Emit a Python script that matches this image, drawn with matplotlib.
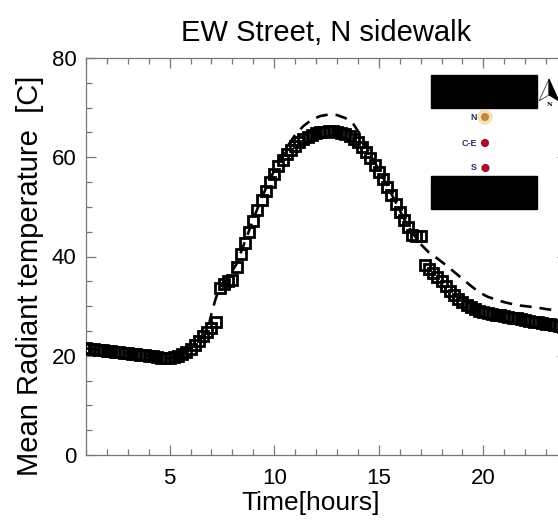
import matplotlib
matplotlib.use("Agg")
import matplotlib.pyplot as plt
from matplotlib.patches import Rectangle, Circle, Polygon
from matplotlib.ticker import MultipleLocator
import numpy as np

plt.rcParams['font.family'] = ['Liberation Sans', 'DejaVu Sans']

# Measured mean radiant temperature (squares), every 0.2 h
time_meas = np.round(np.arange(1.0, 24.01, 0.2), 2)
mrt_meas = [
    21.5, 21.4, 21.3, 21.2, 21.1, 21.0, 20.9, 20.8, 20.7, 20.6,
    20.5, 20.4, 20.3, 20.2, 20.1, 20.0, 19.9, 19.7, 19.6, 19.5,
    19.5, 19.7, 19.9, 20.3, 20.8, 21.4, 22.2, 23.0, 23.9, 24.7,
    25.6, 26.8, 33.6, 34.4, 35.0, 35.3, 37.8, 40.5, 42.8, 45.0,
    47.2, 49.3, 51.3, 53.2, 55.0, 56.7, 58.2, 59.5, 60.6, 61.5,
    62.3, 63.0, 63.6, 64.1, 64.5, 64.8, 65.0, 65.1, 65.2, 65.2,
    65.1, 64.9, 64.6, 64.2, 63.7, 63.0, 62.1, 61.0, 59.8, 58.5,
    57.1, 55.6, 54.0, 52.3, 50.6, 48.9, 47.3, 45.9, 44.3, 44.2,
    44.2, 38.3, 37.5, 36.7, 35.9, 35.0, 34.1, 33.1, 32.2, 31.4,
    30.8, 30.2, 29.8, 29.4, 29.1, 28.9, 28.7, 28.5, 28.3, 28.2,
    28.0, 27.9, 27.7, 27.6, 27.4, 27.3, 27.1, 26.9, 26.8, 26.6,
    26.4, 26.3, 26.1, 26.0, 25.8, 25.7,
]

# Simulated curve (dashed)
time_sim = [1.0, 2.0, 3.0, 4.0, 5.0, 5.5, 6.0, 6.5, 6.8, 7.0, 7.2, 7.4, 7.8,
            8.2, 8.6, 9.0, 9.4, 9.8, 10.2, 10.6, 11.0, 11.4, 11.8, 12.2,
            12.6, 13.0, 13.4, 13.8, 14.2, 14.6, 15.0, 15.4, 15.8, 16.2,
            16.6, 17.0, 17.4, 17.8, 18.2, 18.6, 19.0, 19.4, 19.8, 20.2,
            20.6, 21.0, 21.4, 21.8, 22.2, 22.6, 23.0, 23.4, 23.8, 24.2]
mrt_sim = [21.5, 21.0, 20.5, 20.0, 19.5, 20.1, 21.4, 23.4, 24.8, 28.5, 31.5,
           33.8, 35.8, 38.5, 43.0, 47.5, 51.8, 55.6, 59.0, 62.0, 64.5, 66.3,
           67.6, 68.3, 68.6, 68.5, 67.9, 66.6, 64.0, 60.5, 57.5, 54.3, 51.0,
           47.6, 44.8, 42.5, 40.8, 39.6, 38.3, 36.9, 35.5, 34.1, 32.8, 31.9,
           31.3, 30.8, 30.4, 30.1, 29.9, 29.7, 29.4, 29.2, 29.0, 28.8]

W, H = 558, 520
fig = plt.figure(figsize=(W / 100, H / 100), dpi=100)
ax = fig.add_axes([86 / W, 65 / H, 481 / W, 397 / H])

ax.plot(time_sim, mrt_sim, color='black', lw=1.9, ls=(0, (4.5, 3)), zorder=2)
ax.plot(time_meas, mrt_meas, ls='none', marker='s', ms=7.2, mfc='none',
        mec='black', mew=2.0, zorder=3)

ax.set_xlim(1, 24)
ax.set_ylim(0, 80)
ax.xaxis.set_major_locator(MultipleLocator(5))
ax.xaxis.set_minor_locator(MultipleLocator(1))
ax.yaxis.set_major_locator(MultipleLocator(20))
ax.yaxis.set_minor_locator(MultipleLocator(5))
ax.tick_params(which='both', direction='in', top=True, right=True,
               color='#777777', width=0.9, labelsize=16)
ax.tick_params(which='major', length=7)
ax.tick_params(which='minor', length=4)
ax.tick_params(axis='x', pad=9)
ax.tick_params(axis='y', pad=7)
for s in ax.spines.values():
    s.set_color('#777777')
    s.set_linewidth(0.9)

fig.text(326 / W, 1 - 33 / H, 'EW Street, N sidewalk', ha='center',
         va='center', fontsize=21)
fig.text(311 / W, 1 - 503 / H, 'Time[hours]', ha='center', va='center',
         fontsize=19)
fig.text(30 / W, 1 - 276 / H, 'Mean Radiant temperature  [C]', ha='center',
         va='center', rotation=90, fontsize=21)

# street schematic inset (pixel coordinates)
ov = fig.add_axes([0, 0, 1, 1])
ov.set_xlim(0, W)
ov.set_ylim(H, 0)
ov.axis('off')
ov.add_patch(Rectangle((431, 75), 106, 33, color='black'))
ov.add_patch(Rectangle((431, 176), 106, 33, color='black'))
ov.add_patch(Circle((485, 117), 7, color='#f7dcb0', alpha=0.8))
ov.add_patch(Circle((485, 117), 3.4, color='#c9853e'))
ov.add_patch(Circle((485, 143), 3.4, color='#a8102a'))
ov.add_patch(Circle((485.5, 168), 3.4, color='#a8102a'))
for lbl, yy in [('N', 117), ('C-E', 143), ('S', 168)]:
    ov.text(477, yy, lbl, ha='right', va='center', fontsize=6.5,
            fontweight='bold', color='#2b2b6e')
ov.add_patch(Polygon([(549, 79), (539, 101), (549, 95)], closed=True,
                     facecolor='white', edgecolor='#555555', lw=0.7))
ov.add_patch(Polygon([(549, 79), (549, 95), (559, 101)], closed=True,
                     facecolor='black', edgecolor='black', lw=0.7))
ov.text(550, 104, 'N', ha='center', va='center', fontsize=4.5,
        family='DejaVu Serif', fontweight='bold')

fig.savefig('out.png', dpi=100)
